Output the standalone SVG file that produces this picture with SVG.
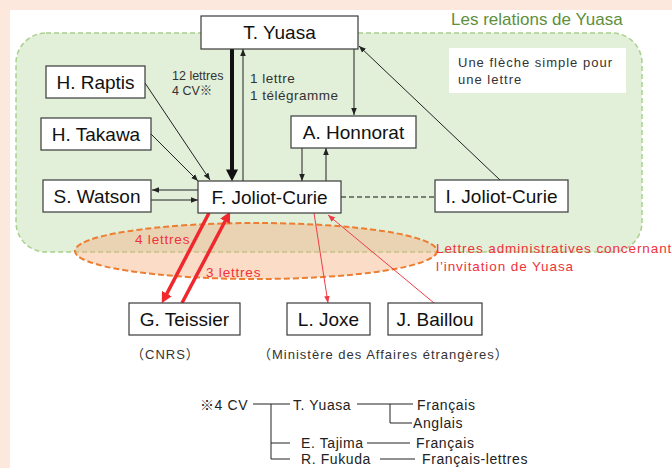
<svg xmlns="http://www.w3.org/2000/svg" width="672" height="468" viewBox="0 0 672 468">
<style>
.node rect{fill:#fff;stroke:#3a3a3a;stroke-width:1.2}
.node text{font-family:"Liberation Sans",Arial,sans-serif;font-size:19px;fill:#111;text-anchor:middle}
.lbl{font-family:"Liberation Sans","Noto Sans CJK JP",sans-serif;fill:#333}
.red{font-family:"Liberation Sans",Arial,sans-serif;font-size:13.5px;letter-spacing:0.8px;fill:#f0323c}
.fn{font-family:"Liberation Sans","Noto Sans CJK JP",sans-serif;font-size:14px;letter-spacing:0.6px;fill:#222}
.ln{stroke:#222;stroke-width:1;fill:none}
</style>
<defs>
<marker id="ab" viewBox="0 0 10 10" refX="10" refY="5" markerWidth="7" markerHeight="7" orient="auto" markerUnits="userSpaceOnUse"><path d="M0,1 L10,5 L0,9 z" fill="#222"/></marker>
<marker id="abig" viewBox="0 0 10 10" refX="0.5" refY="5" markerWidth="12" markerHeight="12" orient="auto" markerUnits="userSpaceOnUse"><path d="M0,0 L10,5 L0,10 z" fill="#111"/></marker>
<marker id="rbig" viewBox="0 0 10 10" refX="0.5" refY="5" markerWidth="11" markerHeight="11" orient="auto" markerUnits="userSpaceOnUse"><path d="M0,0 L10,5 L0,10 z" fill="#f0282d"/></marker>
<marker id="rs" viewBox="0 0 10 10" refX="10" refY="5" markerWidth="7" markerHeight="7" orient="auto" markerUnits="userSpaceOnUse"><path d="M0,1 L10,5 L0,9 z" fill="#f03c46"/></marker>
</defs>
<rect x="0" y="0" width="672" height="468" fill="#fce8dd"/>
<rect x="10" y="10" width="662" height="458" fill="#fff"/>
<rect x="16" y="33" width="626" height="219" rx="30" ry="30" fill="#e2efd9" stroke="#a9d18e" stroke-width="1.5" stroke-dasharray="5 3"/>
<ellipse cx="256" cy="251" rx="181" ry="28" fill="#f4b183" fill-opacity="0.45" stroke="#ed7d31" stroke-width="2" stroke-dasharray="6 3"/>
<text x="451" y="25" font-family="'Liberation Sans',Arial,sans-serif" font-size="17" fill="#5e8f3b">Les relations de Yuasa</text>
<g id="note">
<rect x="449" y="48" width="177" height="45" fill="#fff"/>
<text x="458" y="67" class="lbl" font-size="13" letter-spacing="1" fill="#222">Une flèche simple pour</text>
<text x="458" y="84" class="lbl" font-size="13" letter-spacing="1" fill="#222">une lettre</text>
</g>
<g id="connectors">
<line x1="232" y1="49" x2="232" y2="170" stroke="#111" stroke-width="4" marker-end="url(#abig)"/>
<line class="ln" x1="243" y1="181" x2="243" y2="49" marker-end="url(#ab)"/>
<line class="ln" x1="354" y1="49" x2="354" y2="115" marker-end="url(#ab)"/>
<line class="ln" x1="500" y1="180" x2="359" y2="46" marker-end="url(#ab)"/>
<line class="ln" x1="302" y1="148" x2="302" y2="181" marker-end="url(#ab)"/>
<line class="ln" x1="326" y1="181" x2="326" y2="148" marker-end="url(#ab)"/>
<line class="ln" x1="145" y1="83" x2="210" y2="180" marker-end="url(#ab)"/>
<line class="ln" x1="151" y1="134" x2="198" y2="181" marker-end="url(#ab)"/>
<line class="ln" x1="198" y1="190" x2="152" y2="190" marker-end="url(#ab)"/>
<line class="ln" x1="151" y1="200" x2="198" y2="200" marker-end="url(#ab)"/>
<line x1="341" y1="197" x2="435" y2="197" stroke="#111" stroke-width="1" stroke-dasharray="5 3"/>
<line x1="209" y1="213" x2="166.6" y2="294.1" stroke="#f0282d" stroke-width="3.5" marker-end="url(#rbig)"/>
<line x1="182" y1="303" x2="225.3" y2="220.8" stroke="#f0282d" stroke-width="3.5" marker-end="url(#rbig)"/>
<line x1="314" y1="213" x2="328" y2="303" stroke="#f03c46" stroke-width="1" marker-end="url(#rs)"/>
<line x1="434" y1="303" x2="328" y2="215" stroke="#f03c46" stroke-width="1" marker-end="url(#rs)"/>
</g>
<g id="n-yuasa" class="node"><rect x="201" y="16" width="157" height="33"/><text x="279.5" y="39">T. Yuasa</text></g>
<g id="n-raptis" class="node"><rect x="46" y="66" width="99" height="32"/><text x="95.5" y="89">H. Raptis</text></g>
<g id="n-takawa" class="node"><rect x="41" y="118" width="110" height="32"/><text x="96" y="141">H. Takawa</text></g>
<g id="n-watson" class="node"><rect x="43" y="180" width="108" height="32"/><text x="97" y="203">S. Watson</text></g>
<g id="n-fjc" class="node"><rect x="198" y="181" width="143" height="32"/><text x="269.5" y="204">F. Joliot-Curie</text></g>
<g id="n-honnorat" class="node"><rect x="291" y="116" width="125" height="32"/><text x="353.5" y="139">A. Honnorat</text></g>
<g id="n-ijc" class="node"><rect x="435" y="180" width="133" height="32"/><text x="501.5" y="203">I. Joliot-Curie</text></g>
<g id="n-teissier" class="node"><rect x="129" y="303" width="111" height="32"/><text x="184.5" y="326">G. Teissier</text></g>
<g id="n-joxe" class="node"><rect x="287" y="303" width="83" height="32"/><text x="328.5" y="326">L. Joxe</text></g>
<g id="n-baillou" class="node"><rect x="388" y="303" width="94" height="32"/><text x="435" y="326">J. Baillou</text></g>
<g id="labels">
<text x="172" y="80" class="lbl" font-size="12.5">12 lettres</text>
<text x="172" y="95" class="lbl" font-size="12.5">4 CV※</text>
<text x="250" y="83" class="lbl" font-size="13.5" letter-spacing="0.5">1 lettre</text>
<text x="250" y="100" class="lbl" font-size="13.5" letter-spacing="0.5">1 télégramme</text>
<text x="135" y="244" class="red">4 lettres</text>
<text x="206" y="277" class="red">3 lettres</text>
<text x="436" y="253" class="red" style="letter-spacing:0.9px">Lettres administratives concernant</text>
<text x="436" y="271" class="red" style="letter-spacing:0.9px">l’invitation de Yuasa</text>
<text x="131" y="359" class="lbl" font-size="13" letter-spacing="1" fill="#222">（CNRS）</text>
<text x="258" y="359" class="lbl" font-size="13" letter-spacing="1" fill="#222">（Ministère des Affaires étrangères）</text>
</g>
<g id="footnote">
<text x="200" y="410" class="fn">※4 CV</text>
<path class="ln" d="M253,404 H290 M271,404 V459 H290 M271,443 H290 M357,404 H413 M390,404 V423 H412 M367,443 H410 M380,459 H415"/>
<text x="293" y="410" class="fn">T. Yuasa</text>
<text x="417" y="410" class="fn">Français</text>
<text x="413" y="428" class="fn">Anglais</text>
<text x="301" y="448" class="fn">E. Tajima</text>
<text x="416" y="448" class="fn">Français</text>
<text x="301" y="464" class="fn">R. Fukuda</text>
<text x="422" y="464" class="fn">Français-lettres</text>
</g>
</svg>
